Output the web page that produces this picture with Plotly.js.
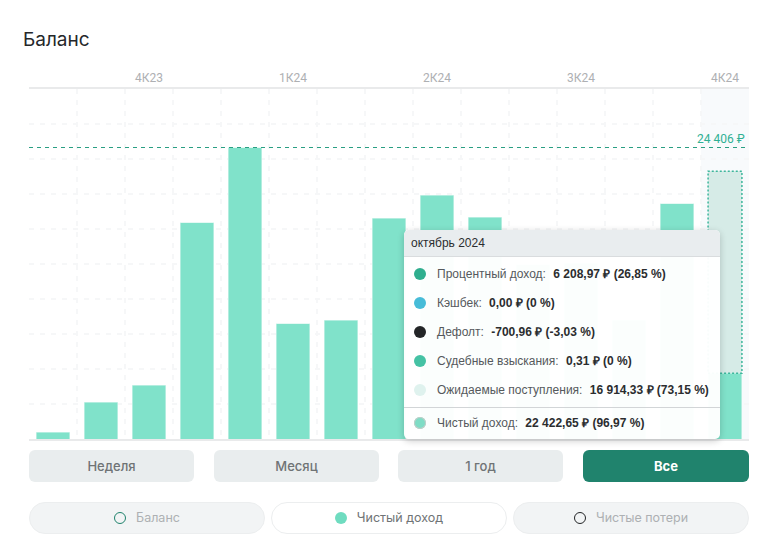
<!DOCTYPE html>
<html lang="ru">
<head>
<meta charset="utf-8">
<script src="https://cdn.plot.ly/plotly-3.0.1.min.js"></script>
<style>
html,body{margin:0;padding:0;background:#fff;width:757px;height:539px;overflow:hidden}
#wrap{position:relative;width:757px;height:539px;font-family:"Liberation Sans",Arial,sans-serif}
#chart{position:absolute;left:0;top:0;width:757px;height:539px}
#tip{position:absolute;left:403.5px;top:230px;width:316px;height:209px;background:rgba(255,255,255,.965);border-radius:5px;box-shadow:0 2px 7px rgba(0,0,0,.2);font-size:12px;color:#55595c;overflow:hidden}
#tipHead{height:26px;line-height:27px;background:#e9edef;border-bottom:1px solid #d9dcde;padding-left:7.5px;color:#2b2d2f;font-size:12px}
.row{position:absolute;left:0;height:20px;line-height:20px;white-space:nowrap;padding-left:33.5px}
.row i{position:absolute;left:10.5px;top:4px;width:12px;height:12px;border-radius:50%}
.row b{font-weight:700;color:#2b2d2f;margin-left:4px}
#div{position:absolute;left:0;right:0;top:176.5px;height:1px;background:#d2d5d7}
.btn{position:absolute;top:450px;height:32px;width:165px;text-align:center;border-radius:6px;background:#e9edee;color:#6f7375;font:500 13px/32px Inter,sans-serif}
.btn.on{background:#20836d;color:#fff;font-weight:700;width:166px}
.pill{position:absolute;top:502px;height:30px;width:234px;border:1px solid #eceeef;border-radius:16px;background:#f2f4f5;color:#adb0b3;font:400 12.5px/30px Inter,sans-serif;text-align:center;white-space:nowrap}
.pill.on{background:#fff;color:#6f7375}
.pill i{display:inline-block;width:12px;height:12px;border-radius:50%;box-sizing:border-box;vertical-align:-2px;margin-right:10px}
</style>
</head>
<body>
<div id="wrap">
  <div id="chart"></div>
  <div id="tip"></div>
  <div id="buttons"></div>
  <div id="pills"></div>
</div>
<script>
const categories = ['авг 2023','сен 2023','окт 2023','ноя 2023','дек 2023','янв 2024','фев 2024','мар 2024','апр 2024','май 2024','июн 2024','июл 2024','авг 2024','сен 2024','окт 2024'];
const quarterLabels = ['','','4К23','','','1К24','','','2К24','','','3К24','','','4К24'];
const netIncome = [586,3098,4521,18127,24406,9670,9963,18503,20429,18587,14600,14725,9955,19676,5508.32];
const expectedIncome = [0,0,0,0,0,0,0,0,0,0,0,0,0,0,16914.33];
const balanceMark = 24406;
const balanceLabel = '24 406 ₽';
const titleText = 'Баланс';
const tipTitle = 'октябрь 2024';
const tipNames = ['Процентный доход:','Кэшбек:','Дефолт:','Судебные взыскания:','Ожидаемые поступления:','Чистый доход:'];
const tipValues = ['6 208,97 ₽ (26,85 %)','0,00 ₽ (0 %)','-700,96 ₽ (-3,03 %)','0,31 ₽ (0 %)','16 914,33 ₽ (73,15 %)','22 422,65 ₽ (96,97 %)'];
const tipColors = ['#2fae8e','#47bcd8','#232527','#45c2a4','#dff2ee','#7fdcc5'];
const buttonNames = ['Неделя','Месяц','1 год','Все'];
const pillNames = ['Баланс','Чистый доход','Чистые потери'];

const last = categories.length - 1;
const barWidth = 0.705;
const yTop = balanceMark * 350 / 291.5;

const traces = [
  {type:'bar',x:categories,y:netIncome,name:'Чистый доход',width:barWidth,
   marker:{color:'#80e2ca',line:{color:'#d6f5ec',width:0.6}},hoverinfo:'skip'},
  {type:'bar',x:categories,y:expectedIncome,name:'Ожидаемые поступления',width:barWidth,
   marker:{color:'#d6ebe7',line:{width:0}},hoverinfo:'skip'}
];
const layout = {
  width:757,height:539,autosize:false,
  paper_bgcolor:'#fff',plot_bgcolor:'#fff',
  margin:{l:29,r:8,t:89,b:100,pad:0},
  barmode:'stack',showlegend:false,
  title:{text:titleText,x:23/757,xanchor:'left',xref:'container',y:1-39.5/539,yanchor:'middle',yref:'container',
    font:{family:'Inter, sans-serif',size:19,color:'#25272a'}},
  xaxis:{type:'category',categoryorder:'array',categoryarray:categories,side:'top',
    range:[-0.5,last+0.5],tickson:'boundaries',tickmode:'array',tickvals:categories,ticktext:quarterLabels,
    ticks:'',tickangle:0,tickfont:{family:'Roboto, sans-serif',size:12,color:'#aeb0b3'},
    showgrid:true,gridcolor:'#f6f7f8',gridwidth:2,griddash:'5px,6px',
    showline:true,linecolor:'#e9eaeb',linewidth:2,mirror:true,zeroline:false,automargin:false},
  yaxis:{range:[0,yTop],tick0:0,dtick:yTop/10,showticklabels:false,ticks:'',
    showgrid:true,gridcolor:'#f6f7f8',gridwidth:2,griddash:'5px,6px',zeroline:false,showline:false,automargin:false},
  shapes:[
    {type:'rect',layer:'below',xref:'x',yref:'paper',x0:last-0.5,x1:last+0.5,y0:0,y1:1,
     fillcolor:'rgba(238,242,248,.42)',line:{width:0}},
    {type:'rect',layer:'above',xref:'x',yref:'y',x0:last-barWidth/2,x1:last+barWidth/2,
     y0:netIncome[last],y1:netIncome[last]+expectedIncome[last],
     fillcolor:'rgba(0,0,0,0)',line:{color:'#3db69c',width:1.5,dash:'2px,2px'}},
    {type:'line',layer:'above',xref:'paper',yref:'y',x0:0,x1:716/720,y0:balanceMark,y1:balanceMark,
     line:{color:'#2a9f83',width:1,dash:'4px,4px'}}
  ],
  annotations:[
    {xref:'paper',yref:'y',x:716/720,y:balanceMark,xanchor:'right',yanchor:'bottom',yshift:0,xshift:2,showarrow:false,
     text:balanceLabel,font:{family:'Roboto, sans-serif',size:12,color:'#2fb094'}}
  ]
};
Plotly.newPlot('chart',traces,layout,{displayModeBar:false,staticPlot:true});

const tip = document.getElementById('tip');
let html = '<div id="tipHead">'+tipTitle+'</div>';
const rowTops = [34,63,92,121,150,183];
tipNames.forEach((n,i)=>{
  html += '<div class="row" style="top:'+rowTops[i]+'px"><i style="background:'+tipColors[i]+(i===5?';box-shadow:0 0 0 1px #c5ccc9 inset':'')+'"></i>'+n+' <b>'+tipValues[i]+'</b></div>';
});
html += '<div id="div"></div>';
tip.innerHTML = html;

const btnLeft = [29,214,398,583];
document.getElementById('buttons').innerHTML = buttonNames.map((n,i)=>
  '<div class="btn'+(i===3?' on':'')+'" style="left:'+btnLeft[i]+'px">'+n+'</div>').join('');

const pillLeft = [29,271,513];
const pillDots = ['border:1.5px solid #20836d','background:#6fdcc0','border:1.5px solid #232527'];
document.getElementById('pills').innerHTML = pillNames.map((n,i)=>
  '<div class="pill'+(i===1?' on':'')+'" style="left:'+pillLeft[i]+'px"><i style="'+pillDots[i]+'"></i>'+n+'</div>').join('');
</script>
</body>
</html>
